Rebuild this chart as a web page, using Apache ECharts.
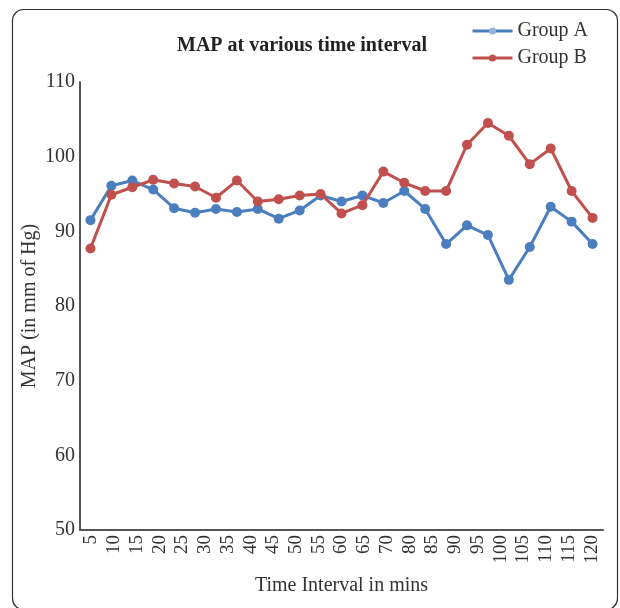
<!DOCTYPE html>
<html>
<head>
<meta charset="utf-8">
<script src="https://cdn.jsdelivr.net/npm/echarts@6/dist/echarts.min.js"></script>
<style>html,body{margin:0;padding:0;background:#fff;}#chart{width:620px;height:608px;}</style>
</head>
<body>
<div id="chart"></div>
<script>
// Tick labels shown on the time axis (75 is absent in the original)
var timeLabels = ['5','10','15','20','25','30','35','40','45','50','55','60','65','70','80','85','90','95','100','105','110','115','120'];
// The plotted series contain 25 readings, spread evenly along the axis
var readingIndex = ['1','2','3','4','5','6','7','8','9','10','11','12','13','14','15','16','17','18','19','20','21','22','23','24','25'];
var groupA = [91.5, 96.1, 96.8, 95.6, 93.1, 92.5, 93.0, 92.6, 93.0, 91.7, 92.8, 94.8, 94.0, 94.8, 93.8, 95.4, 93.0, 88.3, 90.8, 89.5, 83.5, 87.9, 93.3, 91.3, 88.3];
var groupB = [87.7, 94.9, 95.9, 96.9, 96.4, 96.0, 94.5, 96.8, 94.0, 94.3, 94.8, 95.0, 92.4, 93.5, 98.0, 96.5, 95.4, 95.4, 101.6, 104.5, 102.8, 99.0, 101.1, 95.4, 91.8];
var yTicks = [50, 60, 70, 80, 90, 100, 110];

var FONT = '"Liberation Serif", "DejaVu Serif", serif';
var blue = '#4a7ebf';
var red = '#c0504d';

var chart = echarts.init(document.getElementById('chart'), null, {renderer: 'canvas'});
chart.setOption({
  backgroundColor: '#fff',
  animation: false,
  graphic: [{
    type: 'rect', shape: {x: 12.5, y: 9.5, width: 605, height: 600, r: 11},
    style: {fill: 'none', stroke: '#333', lineWidth: 1.2}, z: 100
  }],
  title: {
    text: 'MAP at various time interval',
    left: 172, top: 31,
    textStyle: {fontFamily: FONT, fontSize: 20, fontWeight: 'bold', color: '#222'}
  },
  legend: {
    orient: 'vertical', left: 466, top: 16, itemGap: 7, itemWidth: 40, itemHeight: 9,
    textStyle: {fontFamily: FONT, fontSize: 20, color: '#333'},
    data: [
      {name: 'Group A', itemStyle: {color: '#95b3d7'}, lineStyle: {color: blue, width: 3}},
      {name: 'Group B', itemStyle: {color: red}, lineStyle: {color: red, width: 3}}
    ]
  },
  grid: {left: 80, right: 17, top: 82, bottom: 78, containLabel: false},
  xAxis: [{
    type: 'category', data: timeLabels, boundaryGap: true, position: 'bottom',
    axisLine: {lineStyle: {color: '#555', width: 2}},
    axisTick: {show: false},
    axisLabel: {rotate: 90, margin: 5, fontFamily: FONT, fontSize: 19, color: '#333', interval: 0},
    name: 'Time Interval in mins', nameLocation: 'middle', nameGap: 46, nameMoveOverlap: false,
    nameTextStyle: {fontFamily: FONT, fontSize: 20, color: '#333'}
  }, {
    type: 'category', data: readingIndex, boundaryGap: true, show: false
  }],
  yAxis: {
    type: 'value', min: yTicks[0], max: yTicks[yTicks.length - 1], interval: 10,
    axisLine: {show: true, lineStyle: {color: '#555', width: 2}},
    axisTick: {show: false},
    splitLine: {show: false},
    axisLabel: {fontFamily: FONT, fontSize: 20, color: '#333', margin: 5},
    name: 'MAP (in mm of Hg)', nameLocation: 'middle', nameGap: 40, nameMoveOverlap: false,
    nameTextStyle: {fontFamily: FONT, fontSize: 20, color: '#333'}
  },
  series: [{
    name: 'Group A', type: 'line', xAxisIndex: 1, data: groupA,
    symbol: 'circle', symbolSize: 10,
    lineStyle: {color: blue, width: 3}, itemStyle: {color: blue}, z: 2
  }, {
    name: 'Group B', type: 'line', xAxisIndex: 1, data: groupB,
    symbol: 'circle', symbolSize: 10,
    lineStyle: {color: red, width: 3}, itemStyle: {color: red}, z: 3
  }]
});
</script>
</body>
</html>
